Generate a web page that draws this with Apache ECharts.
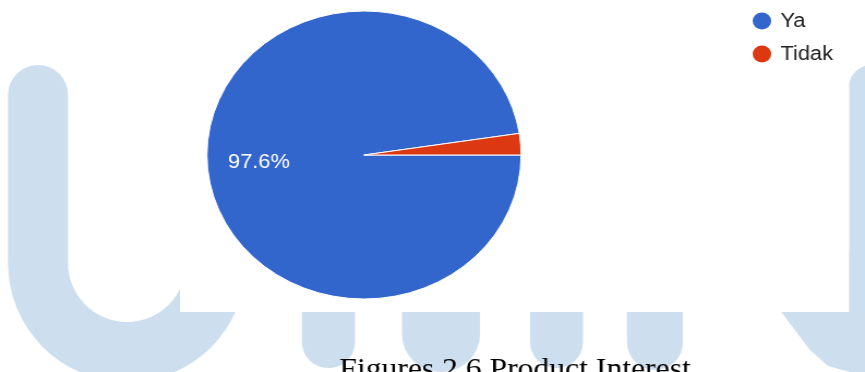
<!DOCTYPE html>
<html>
<head>
<meta charset="utf-8">
<script src="https://cdn.jsdelivr.net/npm/echarts@6/dist/echarts.min.js"></script>
<style>
  html, body { margin: 0; padding: 0; background: #fff; overflow: hidden; }
  #wrap { width: 865px; height: 372px; overflow: hidden; position: relative; }
  #c { width: 793px; height: 372px; transform: scaleX(1.0908); transform-origin: 0 0; }
</style>
</head>
<body>
<div id="wrap"><div id="c"></div></div>
<script>
// ---- data ----
const categories = ['Ya', 'Tidak'];
const values = [97.6, 2.4];
const colors = ['#3366cc', '#dc3912'];
const caption = 'Figures 2.6 Product Interest';

// ---- layout helpers ----
const S = 865 / 793;           // horizontal stretch of the reference
const cx = 364 / S, cy = 155, R = 144;
const wm = '#cddfee';

const chart = echarts.init(document.getElementById('c'));

function wmRect(x, y, w, h, r) {
  return { type: 'rect', shape: { x: x, y: y, width: w, height: h, r: r }, style: { fill: wm }, z: 0, silent: true };
}
const children = [
  wmRect(8, 65, 60, 200, [30, 30, 0, 0]),
  { type: 'sector', shape: { cx: 127, cy: 263, r0: 59, r: 119, startAngle: 0, endAngle: Math.PI, clockwise: true },
    style: { fill: wm }, z: 0, silent: true },
  wmRect(302, 250, 53, 118, [0, 0, 26, 26]),
  wmRect(402, 250, 78, 122, [0, 0, 38, 38]),
  wmRect(530, 250, 53, 118, [0, 0, 26, 26]),
  wmRect(627, 250, 56, 120, [0, 0, 28, 28]),
  { type: 'polygon', shape: { points: [[740, 250], [900, 250], [900, 380], [850, 372], [828, 366], [810, 350], [757, 280]] },
    style: { fill: wm }, z: 0, silent: true },
  wmRect(849, 65, 60, 320, [22, 0, 0, 0]),
  { type: 'rect', shape: { x: 180, y: 0, width: 669, height: 312 }, style: { fill: '#fff' }, z: 1, silent: true }
];

const pieData = categories.map((n, i) => ({
  name: n, value: values[i], itemStyle: { color: colors[i] }
}));

chart.setOption({
  animation: false,
  backgroundColor: '#fff',
  legend: {
    data: categories,
    orient: 'vertical',
    left: 688, top: 10.5,
    padding: 0,
    itemWidth: 24, itemHeight: 19, itemGap: 12,
    icon: 'circle',
    selectedMode: false,
    textStyle: { fontSize: 20, color: '#222', fontFamily: '"Liberation Sans", Arial, sans-serif' }
  },
  graphic: [
    { type: 'group', x: 0, y: 0, scaleX: 1 / S, z: 0, children: children },
    {
      type: 'text', x: 515 / S, y: 370, z: 5, silent: true,
      style: {
        text: caption, fill: '#000',
        fontSize: 29, fontFamily: '"Liberation Serif", "Times New Roman", serif',
        align: 'center', verticalAlign: 'middle'
      }
    }
  ],
  series: [
    {
      type: 'pie', center: [cx, cy], radius: R,
      startAngle: 0, clockwise: true,
      data: pieData,
      label: { show: false }, labelLine: { show: false },
      itemStyle: { borderColor: '#fff', borderWidth: 1 },
      emphasis: { disabled: true }, silent: true
    },
    {
      type: 'pie', center: [cx, cy], radius: R * 0.65 * 2,
      startAngle: 0, clockwise: true, percentPrecision: 1,
      silent: true, legendHoverLink: false,
      emphasis: { disabled: true },
      itemStyle: { color: 'rgba(0,0,0,0)', borderWidth: 0 },
      labelLine: { show: false },
      data: categories.map((n, i) => ({
        name: n, value: values[i],
        label: { show: i === 0 }
      })),
      label: {
        position: 'inside', formatter: '{d}%', color: '#fff',
        fontSize: 20, fontFamily: '"Liberation Sans", Arial, sans-serif'
      }
    }
  ]
});
</script>
</body>
</html>
